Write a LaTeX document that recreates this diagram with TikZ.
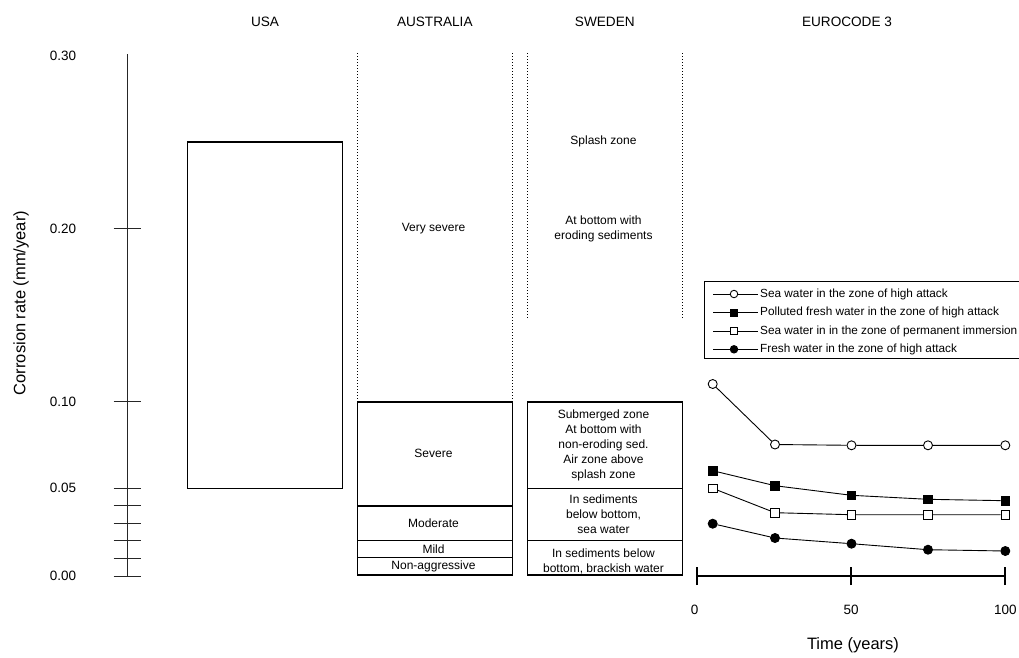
\documentclass[tikz,border=0pt]{standalone}
\usepackage{fontspec}
\setmainfont{Liberation Sans}
\tikzset{
  hdr/.style={font=\fontsize{13.6}{16}\selectfont, inner sep=0pt},
  ticklab/.style={font=\fontsize{13.5}{16}\selectfont, inner sep=0pt},
  axtitle/.style={font=\fontsize{16.5}{19}\selectfont, inner sep=0pt},
  boxtxt/.style={font=\fontsize{12}{15}\selectfont, align=center, inner sep=0pt},
  legtxt/.style={font=\fontsize{11.8}{14}\selectfont, anchor=west, inner sep=0pt},
  thinline/.style={line width=1pt, black!85},
  boxline/.style={line width=1.6pt},
  dotline/.style={line width=1.4pt, dash pattern=on 1.2pt off 1.8pt},
  seriesline/.style={line width=0.9pt},
  ocirc/.style={circle, draw, fill=white, line width=0.9pt, minimum size=9pt, inner sep=0pt},
  fcirc/.style={circle, draw, fill=black, line width=0.9pt, minimum size=9pt, inner sep=0pt},
  osq/.style={rectangle, draw, fill=white, line width=0.9pt, minimum size=8.5pt, inner sep=0pt},
  fsq/.style={rectangle, draw, fill=black, line width=0.9pt, minimum size=8.5pt, inner sep=0pt},
}
\begin{document}
\begin{tikzpicture}[x=1pt,y=-1pt]
\useasboundingbox (0,0) rectangle (1019,657);
% headers
\node[hdr] (hUSA) at (265,22) {USA};
\node[hdr] (hAUS) at (434.8,22) {AUSTRALIA};
\node[hdr] (hSWE) at (604.8,22) {SWEDEN};
\node[hdr] (hEC) at (847,22) {EUROCODE 3};
% y axis
\coordinate (ytop) at (127.5,54);
\coordinate (ybot) at (127.5,576);
\draw[thinline] (ytop) -- (ybot);
\foreach \y/\n in {228.5/a,401.7/b,488.3/c,505.7/d,523.3/e,540.7/f,558.3/g,576/h}{
  \coordinate (tl\n) at (113.5,\y);
  \coordinate (tr\n) at (140.5,\y);
  \draw[thinline] (tl\n) -- (tr\n);
}
\node[ticklab] (l30) at (63,56) {0.30};
\node[ticklab] (l20) at (63,228.5) {0.20};
\node[ticklab] (l10) at (63,401.7) {0.10};
\node[ticklab] (l05) at (63,488.3) {0.05};
\node[ticklab] (l00) at (63,576) {0.00};
\node[axtitle, rotate=90] (ytitle) at (21,303) {Corrosion rate (mm/year)};
% USA
\draw[boxline] (187.3,142) rectangle (342.3,488.3);
% Australia
\draw[dotline] (357.3,53) -- (357.3,401.7);
\draw[dotline] (512.3,53) -- (512.3,401.7);
\draw[boxline] (357.3,401.7) rectangle (512.3,575);
\draw[boxline] (357.3,505.7) -- (512.3,505.7);
\draw[boxline] (357.3,540.3) -- (512.3,540.3);
\draw[boxline] (357.3,557.3) -- (512.3,557.3);
\node[boxtxt] (vsev) at (433.5,228.7) {Very severe};
\node[boxtxt] (sev) at (433.5,453.3) {Severe};
\node[boxtxt] (mod) at (433.5,523.3) {Moderate};
\node[boxtxt] (mild) at (433.5,549.3) {Mild};
\node[boxtxt] (nonag) at (433.5,566.7) {Non-aggressive};
% Sweden
\draw[dotline] (527.3,53) -- (527.3,318);
\draw[dotline] (682.3,53) -- (682.3,318);
\draw[boxline] (527.3,401.7) rectangle (682.3,575);
\draw[boxline] (527.3,488.3) -- (682.3,488.3);
\draw[boxline] (527.3,540.3) -- (682.3,540.3);
\node[boxtxt] (splash) at (603.5,141.7) {Splash zone};
\node[boxtxt] (erod) at (603.5,228.5) {At bottom with\\eroding sediments};
\node[boxtxt] (subm) at (603.5,445.3) {Submerged zone\\At bottom with\\non-eroding sed.\\Air zone above\\splash zone};
\node[boxtxt] (sedsea) at (603.5,514.3) {In sediments\\below bottom,\\sea water};
\node[boxtxt] (sedbr) at (603.5,561.7) {In sediments below\\bottom, brackish water};
% Eurocode time axis
\coordinate (t0) at (696.7,576);
\coordinate (t50) at (851,576);
\coordinate (t100) at (1005.3,576);
\draw[line width=2pt] (t0) -- (t100);
\foreach \c in {t0,t50,t100}{
  \draw[line width=2pt] ([yshift=-9pt]\c) -- ([yshift=9pt]\c);
}
\node[ticklab] (x0) at (694.5,610) {0};
\node[ticklab] (x50) at (851,610) {50};
\node[ticklab] (x100) at (1005.3,610) {100};
\node[axtitle] (xtitle) at (853,645) {Time (years)};
% series
\node[ocirc] (a1) at (712.7,384) {};
\node[ocirc] (a2) at (775,444.5) {};
\node[ocirc] (a3) at (851.5,445.3) {};
\node[ocirc] (a4) at (928,445.3) {};
\node[ocirc] (a5) at (1005.3,445.3) {};
\draw[seriesline] (a1) -- (a2) -- (a3) -- (a4) -- (a5);
\node[fsq] (b1) at (712.7,470.7) {};
\node[fsq] (b2) at (775,485.7) {};
\node[fsq] (b3) at (851.5,495.3) {};
\node[fsq] (b4) at (928,499.3) {};
\node[fsq] (b5) at (1005.3,500.7) {};
\draw[seriesline] (b1) -- (b2) -- (b3) -- (b4) -- (b5);
\node[osq] (c1) at (712.7,488.3) {};
\node[osq] (c2) at (775,512.7) {};
\node[osq] (c3) at (851.5,514.7) {};
\node[osq] (c4) at (928,514.7) {};
\node[osq] (c5) at (1005.3,514.7) {};
\draw[seriesline] (c1) -- (c2) -- (c3) -- (c4) -- (c5);
\node[fcirc] (d1) at (712.7,523.7) {};
\node[fcirc] (d2) at (775,538) {};
\node[fcirc] (d3) at (851.5,543.7) {};
\node[fcirc] (d4) at (928,549.7) {};
\node[fcirc] (d5) at (1005.3,551) {};
\draw[seriesline] (d1) -- (d2) -- (d3) -- (d4) -- (d5);
% legend
\draw[line width=0.9pt] (1030,281) -- (704,281) -- (704,358) -- (1030,358);
\foreach \y/\s/\n/\t in {294/ocirc/1/{Sea water in the zone of high attack},
                          312.7/fsq/2/{Polluted fresh water in the zone of high attack},
                          331/osq/3/{Sea water in in the zone of permanent immersion},
                          349.3/fcirc/4/{Fresh water in the zone of high attack}}{
  \coordinate (la\n) at (713,\y);
  \coordinate (lb\n) at (758,\y);
  \node[\s, minimum size=7.5pt] (lm\n) at (734,\y) {};
  \draw[seriesline] (la\n) -- (lm\n) -- (lb\n);
  \node[legtxt] (lt\n) at (760,\y) {\t};
}
\end{tikzpicture}
\end{document}
